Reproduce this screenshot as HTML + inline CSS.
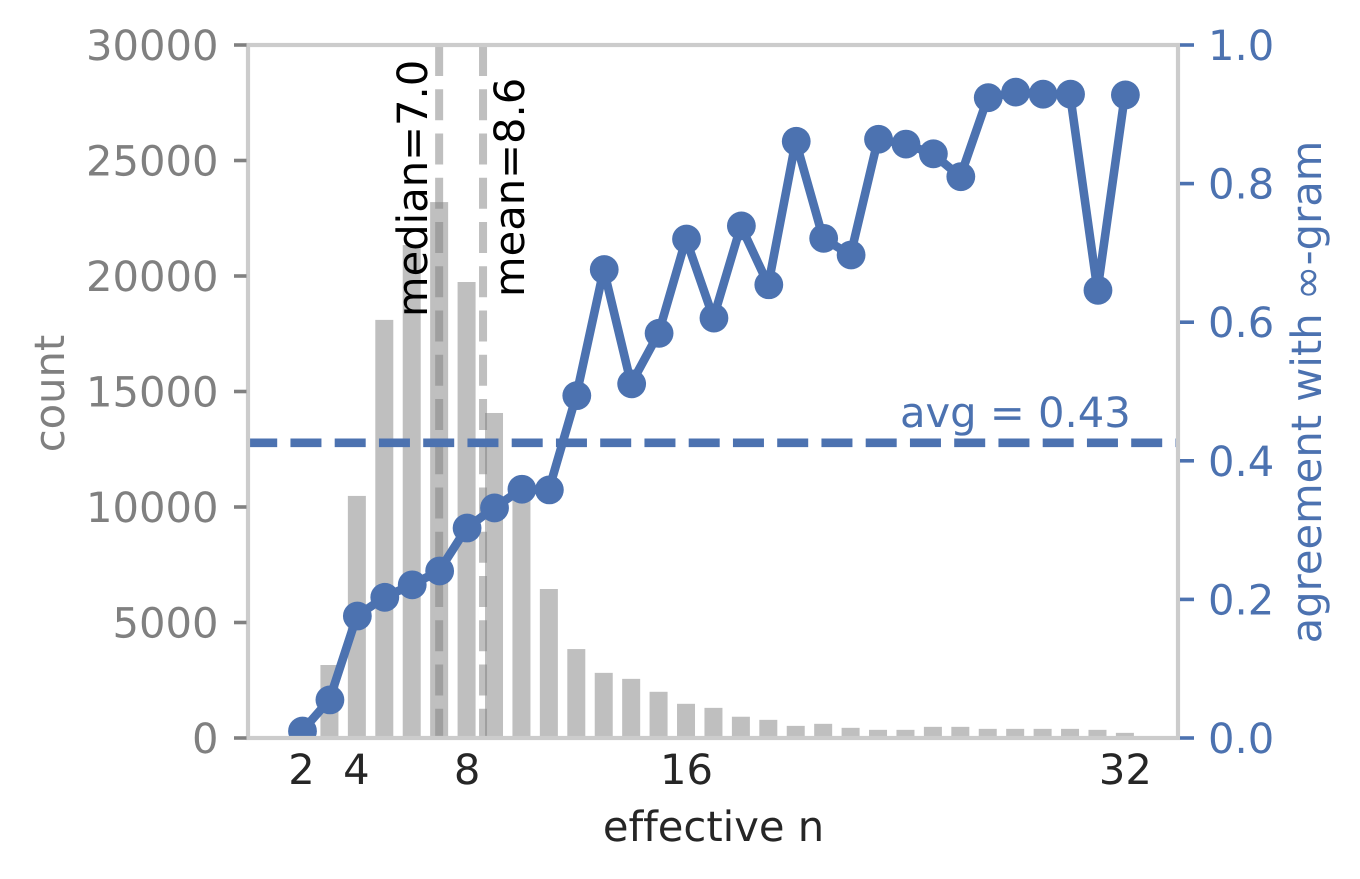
<!DOCTYPE html>
<html lang="en">
<head>
<meta charset="utf-8">
<title>Agreement with ∞-gram by effective n</title>
<style>
  html, body { margin: 0; padding: 0; background: #fff; }
  svg { display: block; }
  text { font-family: "DejaVu Sans", "Liberation Sans", sans-serif; font-size: 41.67px; font-variant-ligatures: none; text-rendering: geometricPrecision; }
</style>
</head>
<body>
<svg id="chart" xmlns="http://www.w3.org/2000/svg" width="1360" height="879" viewBox="0 0 1360 879">
  <defs>
    <clipPath id="plot-clip"><rect x="248" y="45" width="930" height="693"></rect></clipPath>
  </defs>
  <g id="bars" clip-path="url(#plot-clip)"></g>
  <g id="stats" clip-path="url(#plot-clip)"></g>
  <g id="series" clip-path="url(#plot-clip)"></g>
  <g id="spines"></g>
  <g id="axes"></g>
  <text id="median-label" text-anchor="start" fill="#000">median=7.0</text>
  <text id="mean-label" text-anchor="start" fill="#000">mean=8.6</text>
  <text x="900" y="427" fill="#4c72b0">avg = 0.43</text>
  <text x="713.5" y="841" text-anchor="middle" fill="#262626">effective n</text>
  <text transform="translate(64 393.5) rotate(-90)" text-anchor="middle" fill="#808080">count</text>
  <text transform="translate(1321 392) rotate(-90)" text-anchor="middle" fill="#4c72b0">agreement with ∞-gram</text>
</svg>
<script>
const barN = [3,4,5,6,7,8,9,10,11,12,13,14,15,16,17,18,19,20,21,22,23,24,25,26,27,28,29,30,31,32];
const barCounts = [3160,10480,18100,21340,23200,19740,14070,10500,6450,3850,2820,2560,2000,1480,1305,920,785,525,613,440,353,353,483,483,396,396,396,396,353,223];
const lineN = [2,3,4,5,6,7,8,9,10,11,12,13,14,15,16,17,18,19,20,21,22,23,24,25,26,27,28,29,30,31,32];
const agreement = [0.010,0.055,0.176,0.203,0.221,0.241,0.303,0.332,0.359,0.358,0.494,0.676,0.511,0.584,0.720,0.606,0.739,0.654,0.861,0.721,0.697,0.864,0.857,0.843,0.810,0.924,0.932,0.929,0.929,0.646,0.928];
const medianN = 7.0;
const meanN = 8.6;
const averageAgreement = 0.426;
const xTicks = [2,4,8,16,32];
const countTicks = [0,5000,10000,15000,20000,25000,30000];
const agreementTicks = ["0.0","0.2","0.4","0.6","0.8","1.0"];

const NS = 'http://www.w3.org/2000/svg';
const plot = { left: 248, right: 1178, top: 45, bottom: 738 };
const xScale = n => 302 + (n - 2) * 27.43;
const countScale = c => plot.bottom - (c / 30000) * (plot.bottom - plot.top);
const agreementScale = v => plot.bottom - v * (plot.bottom - plot.top);
const BLUE = '#4c72b0';

function make(tag, attrs, parent, text) {
  const node = document.createElementNS(NS, tag);
  for (const k in attrs) node.setAttribute(k, attrs[k]);
  if (text !== undefined) node.textContent = text;
  parent.appendChild(node);
  return node;
}

const barsG = document.getElementById('bars');
barN.forEach((n, i) => {
  const y = countScale(barCounts[i]);
  const bar = make('rect', { x: xScale(n) - 9, y: y, width: 18, height: plot.bottom - y, fill: '#bfbfbf' }, barsG);
  
  
});

const statsG = document.getElementById('stats');
[[medianN, 'median-line'], [meanN, 'mean-line']].forEach(([n, name]) => {
  const line = make('line', {
    x1: xScale(n), x2: xScale(n), y1: plot.top, y2: plot.bottom,
    stroke: '#808080', 'stroke-opacity': 0.5, 'stroke-width': 8, 'stroke-dasharray': '31 13.25'
  }, statsG);
  
  
});

const seriesG = document.getElementById('series');
const avgLine = make('line', {
  x1: plot.left - 1.8, x2: plot.right, y1: agreementScale(averageAgreement), y2: agreementScale(averageAgreement),
  stroke: BLUE, 'stroke-width': 8.6, 'stroke-dasharray': '31 13.25'
}, seriesG);



const seriesLine = make('polyline', {
  points: lineN.map((n, i) => xScale(n) + ',' + agreementScale(agreement[i])).join(' '),
  fill: 'none', stroke: BLUE, 'stroke-width': 8.6, 'stroke-linejoin': 'round'
}, seriesG);



lineN.forEach((n, i) => {
  const point = make('circle', { cx: xScale(n) + 0.5, cy: agreementScale(agreement[i]), r: 14.4, fill: BLUE }, seriesG);
  
  
});

const spinesG = document.getElementById('spines');
const spine = make('rect', {
  x: plot.left, y: plot.top, width: plot.right - plot.left, height: plot.bottom - plot.top,
  fill: 'none', stroke: '#cccccc', 'stroke-width': 4.2
}, spinesG);



const axesG = document.getElementById('axes');
countTicks.forEach(c => {
  const y = countScale(c);
  const tick = make('line', { x1: 234, x2: 246.5, y1: y, y2: y, stroke: '#808080', 'stroke-width': 3.6 }, axesG);
  
  
  const label = make('text', { x: 218.5, y: y + 15, 'text-anchor': 'end', fill: '#808080' }, axesG, String(c));
  
  
});
agreementTicks.forEach(t => {
  const y = agreementScale(parseFloat(t));
  const tick = make('line', { x1: 1180, x2: 1194, y1: y, y2: y, stroke: BLUE, 'stroke-width': 3.6 }, axesG);
  
  
  const label = make('text', { x: 1208, y: y + 15, fill: BLUE }, axesG, t);
  
  
});
xTicks.forEach(n => {
  const label = make('text', { x: xScale(n) + (n > 4 ? 0.5 : -0.5), y: 784, 'text-anchor': 'middle', fill: '#262626' }, axesG, String(n));
  
  
});

document.getElementById('median-label').setAttribute('transform', 'translate(' + (xScale(medianN) - 12) + ' 317) rotate(-90)');
document.getElementById('mean-label').setAttribute('transform', 'translate(' + (xScale(meanN) + 41) + ' 297) rotate(-90)');
</script>
</body>
</html>
